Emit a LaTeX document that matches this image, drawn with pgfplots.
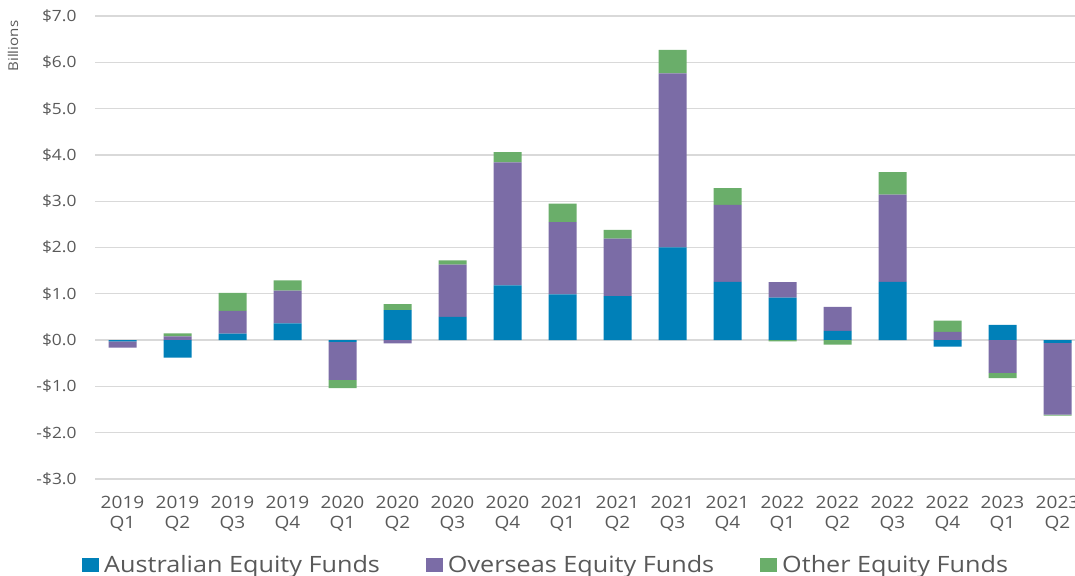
\documentclass[border=0pt]{standalone}
\usepackage{fontspec}
\setmainfont{Open Sans}[FakeStretch=1.12]
\usepackage{pgfplots}
\usepackage{pgfplotstable}
\pgfplotsset{compat=1.18}
\definecolor{au}{HTML}{0080B8}
\definecolor{ov}{HTML}{7B6CA6}
\definecolor{ot}{HTML}{6AAE6A}
\definecolor{txt}{HTML}{595959}
\definecolor{gridc}{HTML}{D9D9D9}

% net flows ($ billions) per quarter
\pgfplotstableread{
x  au     ov     ot
0  -0.03  -0.13  0.00
1  -0.38   0.08  0.065
2   0.14   0.49  0.39
3   0.36   0.71  0.22
4  -0.04  -0.82 -0.18
5   0.645 -0.07  0.13
6   0.50   1.13  0.09
7   1.18   2.66  0.22
8   0.99   1.56  0.40
9   0.95   1.24  0.19
10  2.00   3.76  0.51
11  1.26   1.66  0.36
12  0.92   0.33 -0.03
13  0.20   0.52 -0.10
14  1.26   1.88  0.49
15 -0.14   0.18  0.24
16  0.33  -0.71 -0.11
17 -0.06  -1.55 -0.02
}\flows

\pgfplotsset{
  base/.style={
    scale only axis, width=990pt, height=463pt,
    xmin=-0.5, xmax=17.5, ymin=-3, ymax=7,
    at={(95pt,96pt)}, anchor=south west,
    ybar stacked, bar width=28pt,
    clip=false,
  },
}

\begin{document}
\begin{tikzpicture}
\useasboundingbox (0,0) rectangle (1075pt,575pt);
\clip (0,0) rectangle (1075pt,575pt);
\begin{axis}[base,
  axis line style={draw=none},
  major tick length=0pt,
  ymajorgrids, grid style={gridc, line width=1.3pt},
  ytick={-3,-2,...,7},
  /pgf/number format/assume math mode=true,
  yticklabel={\pgfmathsetmacro\absv{abs(\tick)}\ifdim\tick pt<0pt -\fi\$\pgfmathprintnumber[fixed,fixed zerofill,precision=1]{\absv}},
  yticklabel style={font=\fontsize{15.5}{17}\selectfont, text=txt, xshift=-15pt},
  xtick={0,...,17},
  xticklabels={{2019\\Q1},{2019\\Q2},{2019\\Q3},{2019\\Q4},{2020\\Q1},{2020\\Q2},{2020\\Q3},{2020\\Q4},{2021\\Q1},{2021\\Q2},{2021\\Q3},{2021\\Q4},{2022\\Q1},{2022\\Q2},{2022\\Q3},{2022\\Q4},{2023\\Q1},{2023\\Q2}},
  xticklabel style={font=\fontsize{17}{19.5}\selectfont, text=txt, align=center, yshift=-14pt},
  ylabel={Billions},
  ylabel style={at={(axis description cs:-0.0828,0.935)}, anchor=center, font=\fontsize{13.5}{15}\selectfont, text=txt},
  legend columns=3,
  legend style={at={(axis description cs:-0.0131,-0.186)}, anchor=west, draw=none, fill=none,
    font=\fontsize{22.5}{26}\selectfont, text=txt, inner sep=0pt,
    /tikz/every even column/.append style={column sep=41pt},
    nodes={inner xsep=5pt}},
  legend image code/.code={\fill[#1,draw=none] (0pt,-7pt) rectangle (17pt,7pt);},
]
\addplot[fill=au, draw=none] table[x=x, y expr={max(\thisrow{au},0)}] {\flows};
\addplot[fill=ov, draw=none] table[x=x, y expr={max(\thisrow{ov},0)}] {\flows};
\addplot[fill=ot, draw=none] table[x=x, y expr={max(\thisrow{ot},0)}] {\flows};
\legend{Australian Equity Funds, Overseas Equity Funds, Other Equity Funds}
\end{axis}
\begin{axis}[base, hide axis]
\addplot[fill=au, draw=none] table[x=x, y expr={min(\thisrow{au},0)}] {\flows};
\addplot[fill=ov, draw=none] table[x=x, y expr={min(\thisrow{ov},0)}] {\flows};
\addplot[fill=ot, draw=none] table[x=x, y expr={min(\thisrow{ot},0)}] {\flows};
\end{axis}
\end{tikzpicture}
\end{document}
